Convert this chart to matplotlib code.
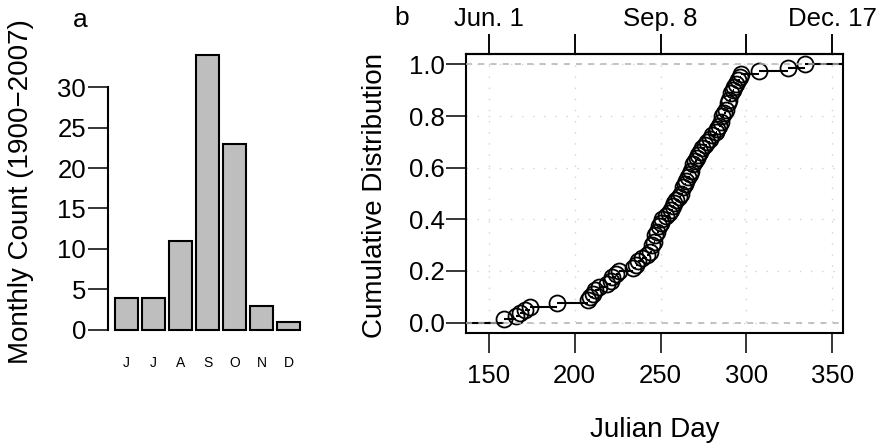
import matplotlib
matplotlib.use('Agg')
import matplotlib.pyplot as plt
import numpy as np

plt.rcParams['font.family'] = ['Liberation Sans', 'DejaVu Sans']

# ====== DATA ====== #
months = ['J', 'J', 'A', 'S', 'O', 'N', 'D']
month_counts = [4, 4, 11, 34, 23, 3, 1]

# day of year of each event, 80 values
days = [159, 166, 168, 171, 174, 190,
        208, 209, 211, 212, 214,
        219, 221, 222, 224, 226,
        234, 236, 237, 239,
        242, 244,
        245, 245, 246, 247, 247, 248, 249, 249, 250, 251,
        253, 255, 256, 257, 258, 259, 261,
        262, 263, 263, 264, 265, 266,
        267, 268, 269, 269, 270, 271, 272, 273,
        274, 276, 277, 279, 280, 282, 283,
        284, 285, 286, 286, 287, 288,
        289, 289, 290, 291, 291, 292, 293,
        294, 295, 296, 297,
        307, 324, 334]

day_ticks = [150, 200, 250, 300, 350]
top_labels = ['Jun. 1', '', 'Sep. 8', '', 'Dec. 17']
prob_ticks = [0.0, 0.2, 0.4, 0.6, 0.8, 1.0]

W, H = 883, 445
fig = plt.figure(figsize=(W / 100, H / 100), dpi=100)

# ======= Panel a: monthly counts ======= #
ax1 = fig.add_axes([107.6 / W, (H - 341) / H, 199.8 / W, 297.4 / H])
pos = 0.7 + 1.2 * np.arange(len(months))
ax1.bar(pos, month_counts, width=1.0, color='#bebebe', edgecolor='black', linewidth=1.5)
ax1.set_xlim(-0.128, 8.728)
ax1.set_ylim(-1.36, 35.36)
for s in ['top', 'right', 'bottom']:
    ax1.spines[s].set_visible(False)
ax1.spines['left'].set_bounds(0, 30)
ax1.spines['left'].set_linewidth(1.5)
ax1.set_yticks([0, 5, 10, 15, 20, 25, 30])
ax1.tick_params(axis='y', length=14.4, width=1.1, labelsize=18.5, pad=1)
ax1.set_xticks(pos, months)
ax1.tick_params(axis='x', length=0, labelsize=10, pad=11)
fig.text(21 / W, (H - 192) / H, 'Monthly Count (1900\u22122007)', rotation=90,
         ha='center', va='center', fontsize=20)
fig.text(80 / W, (H - 27) / H, 'a', ha='center', va='baseline', fontsize=19)

# ======= Panel b: ecdf ======= #
ax2 = fig.add_axes([466 / W, (H - 333) / H, 377 / W, 279 / H])
knots, cnt = np.unique(days, return_counts=True)
F = np.cumsum(cnt) / len(days)
rng = knots.max() - knots.min()
dr = max(0.08 * rng, np.median(np.diff(knots)))
x0, x1 = knots.min() - dr, knots.max() + dr
ax2.set_xlim(x0 - 0.04 * (x1 - x0), x1 + 0.04 * (x1 - x0))
ax2.set_ylim(-0.04, 1.04)

# grid
for t in day_ticks:
    ax2.axvline(t, color='#d3d3d3', lw=1.0, ls=(0, (1, 7)), zorder=0)
for t in prob_ticks:
    ax2.axhline(t, color='#d3d3d3', lw=1.0, ls=(0, (1, 7)), zorder=0)

# step segments (no verticals), running past the plot edges like R does
starts = np.concatenate([[x0 - dr], knots])
ends = np.concatenate([knots, [x1 + dr]])
levels = np.concatenate([[0.0], F])
ax2.hlines(levels, starts, ends, colors='black', lw=1.5, zorder=2)
ax2.plot(knots, F, 'o', mfc='none', mec='black', ms=11.5, mew=1.3, zorder=3)

# 0 / 1 reference lines drawn on top
ax2.axhline(0, color='#b3b3b3', lw=1.1, ls=(0, (4, 4)), zorder=4)
ax2.axhline(1, color='#b3b3b3', lw=1.1, ls=(0, (4, 4)), zorder=4)

for s in ax2.spines.values():
    s.set_linewidth(1.5)
ax2.set_xticks(day_ticks)
ax2.set_yticks(prob_ticks, [f'{t:.1f}' for t in prob_ticks])
ax2.tick_params(axis='x', which='both', length=14.4, width=1.1, labelsize=18.5, pad=8,
                top=True, labeltop=False)
ax2.tick_params(axis='y', length=14.4, width=1.1, labelsize=18.5, pad=1)
sec = ax2.secondary_xaxis('top')
sec.set_xticks(day_ticks, top_labels)
sec.tick_params(length=14.4, width=1.1, labelsize=18.5, pad=2)
sec.spines['top'].set_linewidth(1.5)

fig.text(375 / W, (H - 195) / H, 'Cumulative Distribution', rotation=90,
         ha='center', va='center', fontsize=20)
fig.text(655 / W, 8 / H, 'Julian Day', ha='center', va='baseline', fontsize=20)
fig.text(402 / W, (H - 25) / H, 'b', ha='center', va='baseline', fontsize=19)

fig.savefig('out.png', dpi=100)
